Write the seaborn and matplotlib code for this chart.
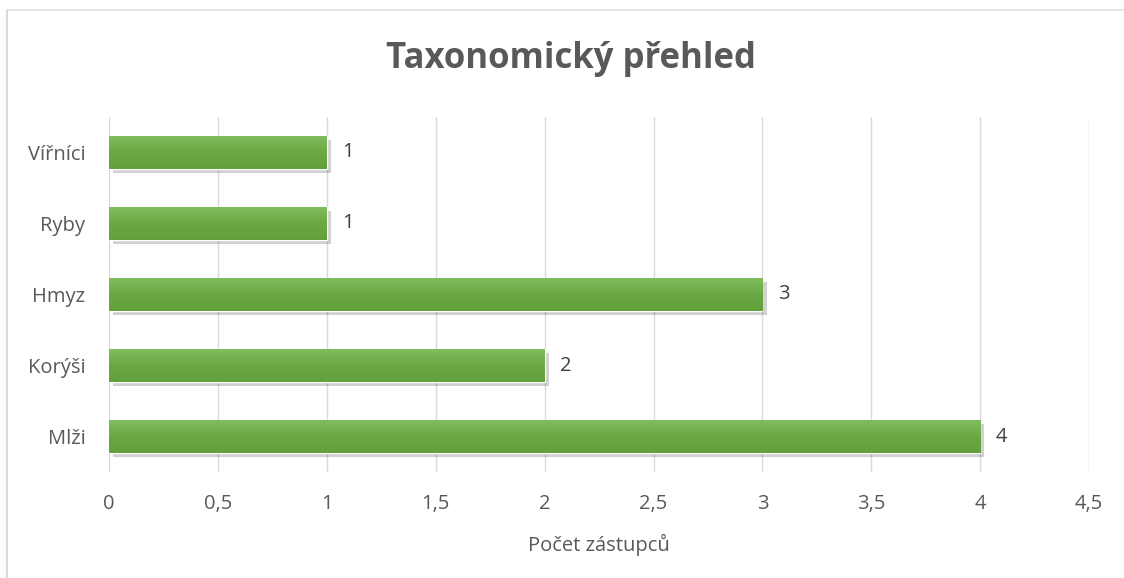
import numpy as np
import pandas as pd
import matplotlib
matplotlib.use('Agg')
import matplotlib.pyplot as plt
import matplotlib.patheffects as pe
from matplotlib.colors import LinearSegmentedColormap
import seaborn as sns

# data
categories = ['Vířníci', 'Ryby', 'Hmyz', 'Korýši', 'Mlži']
counts = [1, 1, 3, 2, 4]
xticks = [0, 0.5, 1, 1.5, 2, 2.5, 3, 3.5, 4, 4.5]

df = pd.DataFrame({'skupina': categories, 'pocet': counts})

sns.set_style('white')
plt.rcParams['font.family'] = ['Open Sans', 'DejaVu Sans']
text_col = '#595959'

fig = plt.figure(figsize=(11.24, 5.78), dpi=100)
ax = fig.add_axes([0.097, 0.183, 0.872, 0.615])

sns.barplot(data=df, x='pocet', y='skupina', orient='h', color='#70AD47',
            saturation=1, width=0.46, ax=ax, zorder=3)

# gradient + soft shadow like the office chart
grad = LinearSegmentedColormap.from_list('g', ['#80bd5e', '#6aa842', '#62a03c'])
for p in list(ax.patches):
    p.set_path_effects([pe.SimplePatchShadow(offset=(3, -3), shadow_rgbFace='#000000', alpha=0.18),
                        pe.Normal()])
    x0, y0 = p.get_x(), p.get_y()
    w, h = p.get_width(), p.get_height()
    im = ax.imshow(np.linspace(0, 1, 64).reshape(-1, 1), cmap=grad, aspect='auto',
                   extent=(x0, x0 + w, y0 + h, y0), zorder=4, origin='upper')
    im.set_clip_path(p)

for i, v in enumerate(counts):
    ax.text(v + 0.072, i, str(v), va='center', ha='left', fontsize=14.5, color='#404040')

ax.set_xlim(0, 4.5)
ax.set_ylim(4.5, -0.5)
ax.set_xticks(xticks)
ax.set_xticklabels([str(t).replace('.', ',') if t % 1 else str(int(t)) for t in xticks])
ax.tick_params(axis='x', colors=text_col, labelsize=14.5, length=0, pad=16)
ax.tick_params(axis='y', colors=text_col, labelsize=14.5, length=0, pad=17)
ax.xaxis.grid(True, color='#d9d9d9', linewidth=1, zorder=0)
ax.set_axisbelow(True)
for s in ax.spines.values():
    s.set_visible(False)
ax.set_ylabel('')
ax.set_xlabel('Počet zástupců', fontsize=14.5, color=text_col, labelpad=14)

fig.text(0.508, 0.898, 'Taxonomický přehled', ha='center', va='center',
         fontsize=25, fontweight='bold', color=text_col)

# chart area border (left and top edge visible)
fig.add_artist(plt.Line2D([7 / 1124, 7 / 1124], [0, 1 - 10 / 578], transform=fig.transFigure,
                          color='#d9d9d9', linewidth=1.5))
fig.add_artist(plt.Line2D([7 / 1124, 1], [1 - 10 / 578, 1 - 10 / 578], transform=fig.transFigure,
                          color='#e3e3e3', linewidth=1.2))

fig.savefig('out.png', dpi=100)
